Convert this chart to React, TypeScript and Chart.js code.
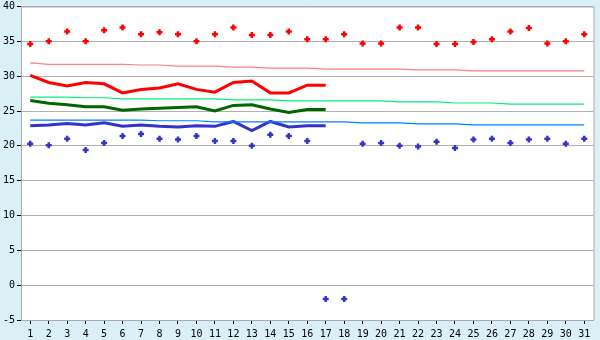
import React, { useEffect, useRef } from "react";
import { Chart, registerables } from "chart.js";

Chart.register(...registerables);

const days = Array.from({ length: 31 }, (_, i) => String(i + 1));

const maxTemps = [34.6, 35.0, 36.4, 35.0, 36.6, 37.0, 36.0, 36.3, 36.0, 35.0, 36.0, 37.0, 35.9, 35.9, 36.4, 35.3, 35.3, 36.0, 34.7, 34.7, 37.0, 37.0, 34.6, 34.6, 34.9, 35.3, 36.4, 36.9, 34.7, 35.0, 36.0];
const minTemps = [20.3, 20.1, 21.0, 19.4, 20.4, 21.4, 21.7, 21.0, 20.9, 21.4, 20.7, 20.7, 20.0, 21.6, 21.4, 20.7, -2.0, -2.0, 20.3, 20.4, 20.0, 19.9, 20.6, 19.7, 20.9, 21.0, 20.4, 20.9, 21.0, 20.3, 21.0];

const avgMax = [30.1, 29.1, 28.6, 29.1, 28.9, 27.6, 28.1, 28.3, 28.9, 28.1, 27.7, 29.1, 29.3, 27.6, 27.6, 28.7, 28.7, null, null, null, null, null, null, null, null, null, null, null, null, null, null];
const avgMean = [26.5, 26.1, 25.9, 25.6, 25.6, 25.1, 25.3, 25.4, 25.5, 25.6, 25.0, 25.8, 25.9, 25.3, 24.8, 25.2, 25.2, null, null, null, null, null, null, null, null, null, null, null, null, null, null];
const avgMin = [22.9, 23.0, 23.2, 23.0, 23.3, 22.8, 23.0, 22.8, 22.7, 22.9, 22.8, 23.5, 22.2, 23.5, 22.7, 22.9, 22.9, null, null, null, null, null, null, null, null, null, null, null, null, null, null];

const normalMax = [31.9, 31.7, 31.7, 31.7, 31.7, 31.7, 31.6, 31.6, 31.45, 31.45, 31.45, 31.3, 31.3, 31.15, 31.15, 31.15, 31.0, 31.0, 31.0, 31.0, 31.0, 30.9, 30.9, 30.9, 30.75, 30.75, 30.75, 30.75, 30.75, 30.75, 30.75];
const normalMean = [27.0, 27.0, 27.0, 26.9, 26.9, 26.75, 26.75, 26.75, 26.75, 26.75, 26.75, 26.6, 26.6, 26.6, 26.45, 26.45, 26.45, 26.45, 26.45, 26.45, 26.3, 26.3, 26.3, 26.15, 26.15, 26.15, 26.0, 26.0, 26.0, 26.0, 26.0];
const normalMin = [23.7, 23.7, 23.7, 23.7, 23.7, 23.7, 23.7, 23.6, 23.6, 23.6, 23.45, 23.45, 23.45, 23.45, 23.45, 23.45, 23.45, 23.45, 23.3, 23.3, 23.3, 23.15, 23.15, 23.15, 23.0, 23.0, 23.0, 23.0, 23.0, 23.0, 23.0];

const yTicks = [-5, 0, 5, 10, 15, 20, 25, 30, 35, 40];

const FONT = { family: "'DejaVu Sans Mono', monospace", size: 10 };
const YFONT = { family: "'DejaVu Sans Mono', monospace", size: 10, lineHeight: 0.9 };

const bgPlugin = {
  id: "bg",
  beforeDraw(chart: any) {
    const { ctx, chartArea, width, height } = chart;
    ctx.save();
    ctx.fillStyle = "#daf0f7";
    ctx.fillRect(0, 0, width, height);
    ctx.fillStyle = "#ffffff";
    ctx.fillRect(chartArea.left, chartArea.top, chartArea.right - chartArea.left, chartArea.bottom - chartArea.top);
    ctx.restore();
  },
  afterDraw(chart: any) {
    const { ctx, chartArea } = chart;
    ctx.save();
    ctx.strokeStyle = "#aaaaaa";
    ctx.lineWidth = 1;
    ctx.beginPath();
    ctx.moveTo(chartArea.left, chartArea.top + 0.5);
    ctx.lineTo(chartArea.right + 0.5, chartArea.top + 0.5);
    ctx.lineTo(chartArea.right + 0.5, chartArea.bottom);
    ctx.stroke();
    ctx.restore();
  },
};

export default function App() {
  const ref = useRef<HTMLCanvasElement>(null);
  useEffect(() => {
    if (!ref.current) return;
    const lineDs = (label: string, data: any[], color: string, width: number) => ({
      type: "line" as const,
      label,
      data,
      borderColor: color,
      backgroundColor: color,
      borderWidth: width,
      pointRadius: 0,
      tension: 0,
      spanGaps: false,
    });
    const chart = new Chart(ref.current, {
      type: "line",
      data: {
        labels: days,
        datasets: [
          lineDs("Normal max", normalMax, "#ff8080", 1.2),
          lineDs("Normal mean", normalMean, "#00f080", 1.2),
          lineDs("Normal min", normalMin, "#0080ff", 1.2),
          lineDs("Avg max", avgMax, "#ff0000", 3),
          lineDs("Avg mean", avgMean, "#006600", 3),
          lineDs("Avg min", avgMin, "#3333cc", 3),
          {
            label: "Max",
            data: maxTemps,
            showLine: false,
            pointStyle: "cross",
            pointRadius: 3,
            pointBorderWidth: 2.5,
            borderColor: "#ff0000",
            backgroundColor: "#ff0000",
          },
          {
            label: "Min",
            data: minTemps,
            showLine: false,
            pointStyle: "cross",
            pointRadius: 3,
            pointBorderWidth: 2.5,
            borderColor: "#3333cc",
            backgroundColor: "#3333cc",
          },
        ],
      },
      options: {
        animation: false,
        responsive: false,
        maintainAspectRatio: false,
        layout: { padding: { top: 5, right: 5, left: 0, bottom: 0 } },
        plugins: { legend: { display: false }, tooltip: { enabled: false } },
        scales: {
          x: {
            type: "category",
            offset: true,
            grid: { drawOnChartArea: false, drawTicks: true, tickLength: 4, tickColor: "#000000" },
            border: { color: "#aaaaaa" },
            ticks: { font: FONT, color: "#000000", padding: 4, maxRotation: 0, autoSkip: false },
            afterFit: (s: any) => { s.height = 20; },
          },
          y: {
            min: -5,
            max: 40,
            afterBuildTicks: (s: any) => { s.ticks = yTicks.map((v) => ({ value: v })); },
            grid: { color: "#b0b0b0", tickColor: "#000000", tickLength: 4 },
            border: { color: "#aaaaaa" },
            ticks: { font: YFONT, color: "#000000", padding: 2 },
            afterFit: (s: any) => { s.width = 21; },
          },
        },
      },
      plugins: [bgPlugin],
    });
    return () => chart.destroy();
  }, []);
  return (
    <div style={{ position: "fixed", left: 0, top: 0, width: 600, height: 340 }}>
      <canvas ref={ref} width={600} height={340} style={{ display: "block" }} />
    </div>
  );
}
